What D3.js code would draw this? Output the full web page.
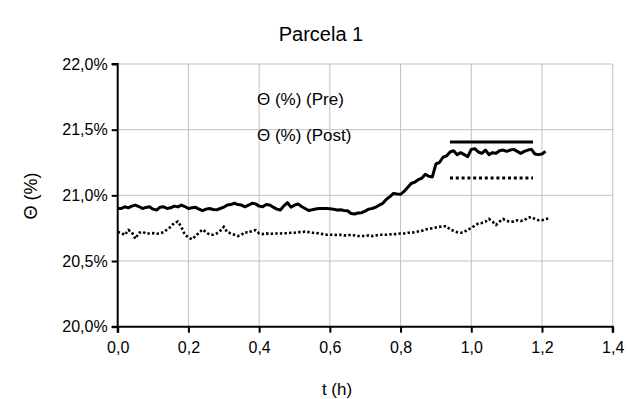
<!DOCTYPE html>
<html><head><meta charset="utf-8">
<script src="https://cdn.jsdelivr.net/npm/d3@7"></script>
<style>body{margin:0;background:#fff}svg{display:block;font-family:"Liberation Sans",Arial,sans-serif}</style>
</head><body><svg id="c" width="627" height="399"></svg>
<script>
const title = "Parcela 1";
const xLabel = "t (h)";
const yLabel = "Θ (%)";
const seriesNames = ["Θ (%) (Pre)", "Θ (%) (Post)"];
const xTicks = [0, 0.2, 0.4, 0.6, 0.8, 1.0, 1.2, 1.4];
const yTicks = [20.0, 20.5, 21.0, 21.5, 22.0];
const tStep = 0.01;
const preValues = [
20.90,20.90,20.913,20.905,20.918,20.926,20.915,20.90,20.908,20.913,
20.895,20.888,20.91,20.913,20.90,20.905,20.918,20.912,20.926,20.915,
20.90,20.905,20.909,20.895,20.883,20.895,20.90,20.892,20.89,20.90,
20.91,20.926,20.93,20.94,20.93,20.926,20.913,20.925,20.94,20.935,
20.918,20.913,20.93,20.926,20.91,20.895,20.888,20.92,20.944,20.91,
20.925,20.934,20.915,20.90,20.885,20.89,20.896,20.90,20.90,20.90,
20.898,20.895,20.888,20.89,20.885,20.883,20.862,20.858,20.866,20.868,
20.88,20.895,20.90,20.91,20.926,20.94,20.97,20.99,21.015,21.01,
21.008,21.03,21.06,21.09,21.10,21.12,21.13,21.16,21.145,21.14,
21.24,21.25,21.29,21.30,21.33,21.34,21.31,21.325,21.31,21.295,
21.35,21.355,21.33,21.32,21.345,21.31,21.325,21.32,21.34,21.345,
21.335,21.345,21.35,21.335,21.32,21.335,21.345,21.35,21.315,21.31,
21.315,21.335];
const postValues = [
20.72,20.715,20.698,20.736,20.72,20.67,20.715,20.723,20.71,20.71,
20.712,20.708,20.71,20.72,20.74,20.76,20.79,20.80,20.76,20.70,
20.68,20.665,20.69,20.715,20.74,20.72,20.70,20.70,20.71,20.73,
20.76,20.72,20.71,20.70,20.69,20.70,20.72,20.715,20.73,20.735,
20.71,20.705,20.71,20.705,20.71,20.71,20.71,20.712,20.712,20.715,
20.715,20.72,20.72,20.725,20.72,20.715,20.715,20.71,20.705,20.70,
20.70,20.70,20.698,20.70,20.695,20.695,20.70,20.695,20.69,20.69,
20.69,20.695,20.69,20.695,20.70,20.70,20.70,20.703,20.705,20.705,
20.71,20.71,20.715,20.715,20.72,20.725,20.73,20.74,20.745,20.75,
20.755,20.76,20.765,20.765,20.74,20.73,20.72,20.715,20.72,20.74,
20.75,20.77,20.785,20.79,20.80,20.82,20.80,20.775,20.80,20.82,
20.805,20.80,20.80,20.81,20.805,20.81,20.83,20.835,20.82,20.81,
20.81,20.82,20.825];

const svg = d3.select("#c");
const L = 117.7, R = 612.7, T = 64, B = 326.7;
const x = d3.scaleLinear().domain([0, 1.4]).range([L, R]);
const y = d3.scaleLinear().domain([20.0, 22.0]).range([B, T]);
const fmt = d3.format(".1f");
const comma = v => fmt(v).replace(".", ",");

// gridlines
const g = svg.append("g");
g.selectAll("line.h").data(yTicks.slice(1)).join("line")
  .attr("x1", L).attr("x2", R).attr("y1", d => y(d)).attr("y2", d => y(d))
  .attr("stroke", "#c0c0c0").attr("stroke-width", 1);
g.selectAll("line.v").data(xTicks.slice(1)).join("line")
  .attr("x1", d => x(d)).attr("x2", d => x(d)).attr("y1", T).attr("y2", B)
  .attr("stroke", "#c0c0c0").attr("stroke-width", 1);

// axes
const yAxis = d3.axisLeft(y).tickValues(yTicks).tickSize(6).tickPadding(4).tickFormat(d => comma(d) + "%");
const xAxis = d3.axisBottom(x).tickValues(xTicks).tickSize(6).tickPadding(9).tickFormat(comma);
const ya = svg.append("g").attr("transform", `translate(${L},0)`).call(yAxis);
const xa = svg.append("g").attr("transform", `translate(0,${B})`).call(xAxis);
[ya, xa].forEach(a => {
  a.select(".domain").attr("stroke", "#000").attr("stroke-width", 2);
  a.selectAll(".tick line").attr("stroke", "#000").attr("stroke-width", 2);
  a.selectAll(".tick text").attr("fill", "#000").attr("font-size", 16).attr("font-family", "Liberation Sans, Arial, sans-serif");
});
ya.select(".domain").attr("d", `M-6,${B}H0V${T}H-6`);
xa.select(".domain").attr("d", `M${L},6V0H${R}V6`);

const toPts = vals => vals.map((v, i) => [i * tStep, v]);
const line = d3.line().x(d => x(d[0])).y(d => y(d[1]));

svg.append("path").attr("d", line(toPts(postValues))).attr("fill", "none")
  .attr("stroke", "#000").attr("stroke-width", 2.6).attr("stroke-dasharray", "2.4,2.2");
svg.append("path").attr("d", line(toPts(preValues))).attr("fill", "none")
  .attr("stroke", "#000").attr("stroke-width", 3).attr("stroke-linejoin", "round");

// legend
const lg = svg.append("g").attr("font-size", 17).attr("fill", "#000");
lg.append("text").attr("x", 257).attr("y", 105).text(seriesNames[0]);
lg.append("text").attr("x", 257).attr("y", 141).text(seriesNames[1]);
lg.append("line").attr("x1", 450).attr("x2", 533).attr("y1", 142).attr("y2", 142)
  .attr("stroke", "#000").attr("stroke-width", 3);
lg.append("line").attr("x1", 450).attr("x2", 533).attr("y1", 178).attr("y2", 178)
  .attr("stroke", "#000").attr("stroke-width", 3).attr("stroke-dasharray", "3,2.8");

// titles
svg.append("text").attr("x", 321).attr("y", 41).attr("text-anchor", "middle").attr("font-size", 20).text(title);
svg.append("text").attr("x", 337).attr("y", 395).attr("text-anchor", "middle").attr("font-size", 17).text(xLabel);
svg.append("text").attr("transform", "translate(37,196) rotate(-90)").attr("text-anchor", "middle").attr("font-size", 18).text(yLabel);
</script></body></html>
